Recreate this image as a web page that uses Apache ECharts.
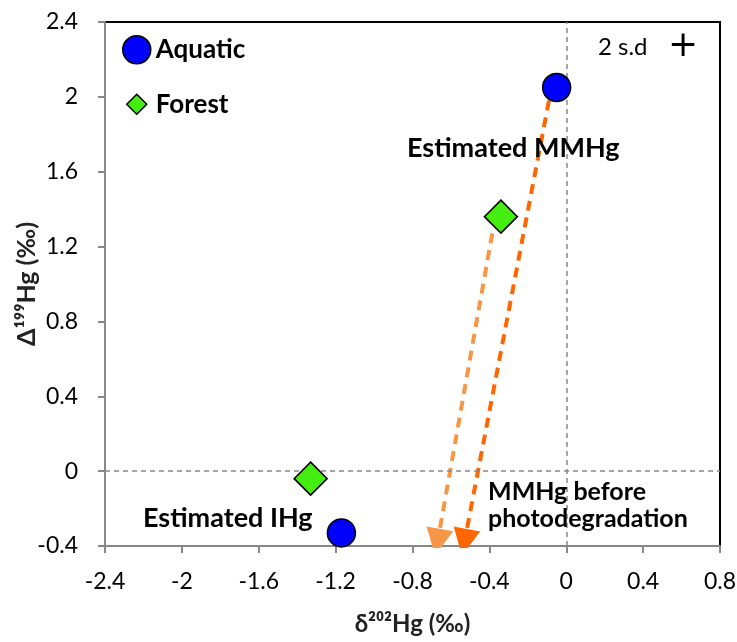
<!DOCTYPE html>
<html>
<head>
<meta charset="utf-8">
<script src="https://cdn.jsdelivr.net/npm/echarts@6/dist/echarts.min.js"></script>
<style>
  html, body { margin: 0; padding: 0; background: #fff; }
  #chart { width: 737px; height: 642px; }
</style>
</head>
<body>
<div id="chart"></div>
<script>
// data
var aquatic = [[-0.05, 2.05], [-1.17, -0.33]];
var forest = [[-0.34, 1.36], [-1.33, -0.04]];
// arrows: MMHg -> MMHg before photodegradation
var arrowDark = [[-0.09, 1.98], [-0.53, -0.38]];
var arrowLight = [[-0.385, 1.27], [-0.67, -0.38]];
var xTicks = { min: -2.4, max: 0.8, step: 0.4 };
var yTicks = { min: -0.4, max: 2.4, step: 0.4 };

var chart = echarts.init(document.getElementById('chart'));
var font = 'Lato';

function fmt(v) {
  var r = Math.round(v * 10) / 10;
  return String(r);
}

var option = {
  backgroundColor: '#fff',
  animation: false,
  grid: {
    left: 105, right: 17, top: 22, bottom: 96,
    outerBoundsMode: 'none', containLabel: false,
    show: true, borderColor: '#000', borderWidth: 2, backgroundColor: 'transparent'
  },
  legend: {
    orient: 'vertical',
    left: 122, top: 35, padding: 0,
    itemGap: 25,
    itemWidth: 28, itemHeight: 28,
    textStyle: { fontFamily: font, fontWeight: 'bold', fontSize: 26, color: '#000' },
    data: [
      { name: 'Aquatic', icon: 'circle', itemStyle: { color: '#0000ff', borderColor: '#000', borderWidth: 1.5 } },
      { name: 'Forest', icon: 'path://M0,0L0,0M28,28L28,28M14,4L24,14L14,24L4,14Z',
        itemStyle: { color: '#44ee11', borderColor: '#000', borderWidth: 1.5 } }
    ]
  },
  xAxis: {
    type: 'value', min: xTicks.min, max: xTicks.max, interval: xTicks.step,
    name: 'δ²⁰²Hg (‰)', nameLocation: 'middle', nameGap: 66, nameMoveOverlap: false,
    nameTextStyle: { fontFamily: font, fontWeight: 'bold', fontSize: 24, color: '#222' },
    axisLine: { onZero: false, lineStyle: { color: '#888', width: 2 } },
    axisTick: { show: true, inside: false, length: 7, lineStyle: { color: '#888', width: 2 } },
    axisLabel: { fontFamily: font, fontSize: 23, color: '#000', margin: 24, formatter: fmt },
    splitLine: { show: false }
  },
  yAxis: {
    type: 'value', min: yTicks.min, max: yTicks.max, interval: yTicks.step,
    name: 'Δ¹⁹⁹Hg (‰)', nameLocation: 'middle', nameGap: 66, nameRotate: 90, nameMoveOverlap: false,
    nameTextStyle: { fontFamily: font, fontWeight: 'bold', fontSize: 25, color: '#222' },
    axisLine: { onZero: false, lineStyle: { color: '#888', width: 2 } },
    axisTick: { show: true, inside: false, length: 7, lineStyle: { color: '#888', width: 2 } },
    axisLabel: { fontFamily: font, fontSize: 23, color: '#000', margin: 27, formatter: fmt },
    splitLine: { show: false }
  },
  series: [
    {
      name: 'zero', type: 'line', data: [], silent: true,
      markLine: {
        silent: true, symbol: 'none', label: { show: false },
        lineStyle: { color: '#888', type: [5, 4], width: 1.5 },
        data: [{ xAxis: 0 }, { yAxis: 0 }]
      }
    },
    {
      name: 'arrowLight', type: 'lines', coordinateSystem: 'cartesian2d', z: 3,
      symbol: ['none', 'triangle'], symbolSize: 27,
      lineStyle: { color: '#f79646', width: 4, type: [10, 7], opacity: 1 },
      data: [{ coords: arrowLight }]
    },
    {
      name: 'arrowDark', type: 'lines', coordinateSystem: 'cartesian2d', z: 3,
      symbol: ['none', 'triangle'], symbolSize: 27,
      lineStyle: { color: '#ff6600', width: 4, type: [10, 7], opacity: 1 },
      data: [{ coords: arrowDark }]
    },
    {
      name: 'Aquatic', type: 'scatter', z: 5, symbol: 'circle', symbolSize: 28,
      itemStyle: { color: '#0000ff', borderColor: '#000', borderWidth: 1.5, opacity: 1 },
      data: aquatic
    },
    {
      name: 'Forest', type: 'scatter', z: 5, symbol: 'diamond', symbolSize: 33,
      itemStyle: { color: '#44ee11', borderColor: '#000', borderWidth: 1.5, opacity: 1 },
      data: forest
    }
  ],
  graphic: [
    { type: 'text', x: 598, y: 47, z: 10,
      style: { text: '2 s.d', font: '24px Lato', fill: '#000', verticalAlign: 'middle' } },
    { type: 'text', x: 683, y: 47, z: 10,
      style: { text: '+', font: '36px "DejaVu Sans"', fill: '#000', align: 'center', verticalAlign: 'middle' } },
    { type: 'text', x: 407, y: 148, z: 10,
      style: { text: 'Estimated MMHg', font: 'bold 27px Lato', fill: '#000', verticalAlign: 'middle' } },
    { type: 'text', x: 143, y: 518, z: 10,
      style: { text: 'Estimated IHg', font: 'bold 27px Lato', fill: '#000', verticalAlign: 'middle' } },
    { type: 'text', x: 488, y: 492, z: 10,
      style: { text: 'MMHg before', font: 'bold 25px Lato', fill: '#000', verticalAlign: 'middle' } },
    { type: 'text', x: 488, y: 519, z: 10,
      style: { text: 'photodegradation', font: 'bold 25px Lato', fill: '#000', verticalAlign: 'middle' } }
  ]
};
chart.setOption(option);
</script>
</body>
</html>
